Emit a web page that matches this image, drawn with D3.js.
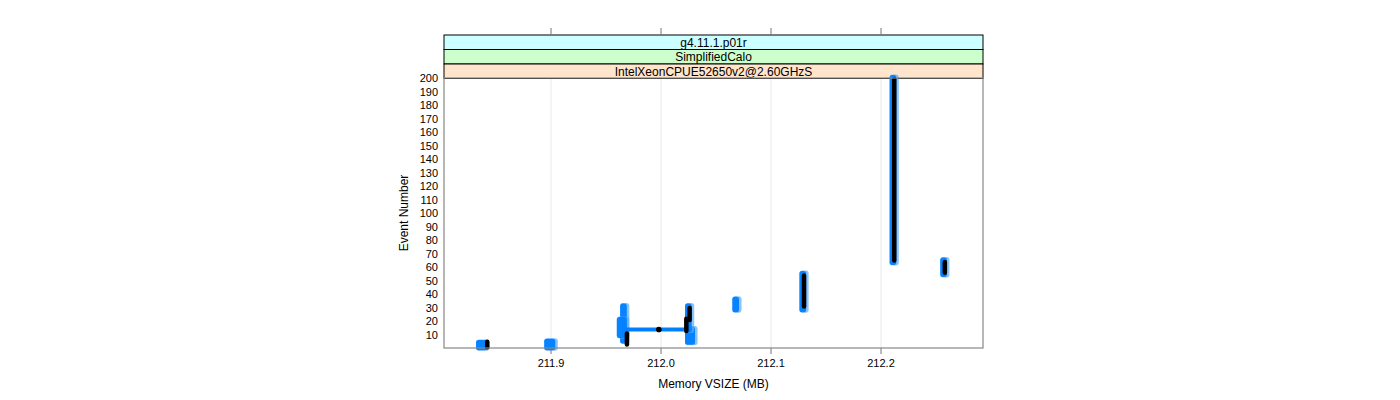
<!DOCTYPE html>
<html><head><meta charset="utf-8">
<script src="https://cdn.jsdelivr.net/npm/d3@7"></script>
<style>body{margin:0;background:#fff}text{font-family:"Liberation Sans",Arial,sans-serif}</style>
</head><body><svg id="c" width="1400" height="400"></svg>
<script>
// strip labels (outer to inner)
const stripLabels = ["g4.11.1.p01r", "SimplifiedCalo", "IntelXeonCPUE52650v2@2.60GHzS"];
const xTicks = [211.9, 212.0, 212.1, 212.2];
const yTicks = [10,20,30,40,50,60,70,80,90,100,110,120,130,140,150,160,170,180,190,200];
// blue (all runs) runs of events: memory range and event range
const blueMemLo = [211.835, 211.897, 211.966, 211.963, 212.025, 212.025, 212.068, 212.129, 212.211, 212.257];
const blueMemHi = [211.841, 211.903, 211.968, 211.968, 212.030, 212.027, 212.070, 212.131, 212.213, 212.259];
const blueFrom  = [1, 1, 6, 10, 5, 14, 29, 29, 64, 55];
const blueTo    = [4, 5, 31, 21, 14, 31, 36, 55, 200, 65];
// blue connecting line
const blueLineMem = [211.968, 212.026];
const blueLineEvt = [14, 14];
// black (reference run)
const blackMem  = [211.842, 211.969, 212.023, 212.026, 212.130, 212.212, 212.258];
const blackFrom = [1, 3, 13, 21, 31, 65, 56];
const blackTo   = [5, 11, 22, 30, 54, 199, 64];
const blackDotMem = [211.998];
const blackDotEvt = [14];

const svg = d3.select("#c");
const L = 444, R = 983, T = 78, B = 348;
const x = d3.scaleLinear().domain([211.8027, 212.2927]).range([L, R]);
const y = d3.scaleLinear().domain([0, 200]).range([B + 0.5, T]);

// grid
svg.append("g").selectAll("line").data(xTicks).join("line")
  .attr("x1", d => x(d)).attr("x2", d => x(d)).attr("y1", T).attr("y2", B)
  .attr("stroke", "#e8e8e8").attr("stroke-width", 1);

// strips
const sh = 14.5;
stripLabels.forEach((lab, i) => {
  const top = 35 + i * sh;
  const col = ["#ccffff", "#ccffcc", "#ffe5cc"][i];
  svg.append("rect").attr("x", L).attr("y", top).attr("width", R - L).attr("height", sh)
    .attr("fill", col).attr("stroke", "#000").attr("stroke-width", 1);
  svg.append("text").attr("x", (L + R) / 2).attr("y", top + sh / 2 + 4.5)
    .attr("text-anchor", "middle").attr("font-size", 12).text(lab);
});

// blue runs
const g = svg.append("g");
blueMemLo.forEach((lo, i) => {
  const x0 = x(lo) - 3.5, x1 = x(blueMemHi[i]) + 3.5;
  const y0 = y(blueTo[i]) - 3.5, y1 = y(blueFrom[i]) + 3.5;
  g.append("rect").attr("x", x0).attr("y", y0).attr("width", x1 - x0).attr("height", y1 - y0)
    .attr("rx", 3).attr("fill", "#5aaaff").attr("fill-opacity", 0.7);
  g.append("rect").attr("x", x0).attr("y", y0 + 0.5).attr("width", Math.max(0, x1 - x0 - 2.5)).attr("height", y1 - y0 - 1)
    .attr("rx", 2.5).attr("fill", "#0080ff").attr("fill-opacity", 0.95);
});
g.append("path")
  .attr("d", d3.line().x(d => x(d[0])).y(d => y(d[1]))(blueLineMem.map((m, i) => [m, blueLineEvt[i]])))
  .attr("stroke", "#0080ff").attr("stroke-width", 4).attr("fill", "none");

// black runs
blackMem.forEach((m, i) => {
  g.append("line").attr("x1", x(m)).attr("x2", x(m))
    .attr("y1", y(blackFrom[i])).attr("y2", y(blackTo[i]))
    .attr("stroke", "#000").attr("stroke-width", 4.5).attr("stroke-linecap", "round");
});
g.selectAll("circle.bd").data(blackDotMem).join("circle")
  .attr("cx", d => x(d)).attr("cy", (d, i) => y(blackDotEvt[i])).attr("r", 2.8).attr("fill", "#000");

// panel border
svg.append("rect").attr("x", L).attr("y", T).attr("width", R - L).attr("height", B - T)
  .attr("fill", "none").attr("stroke", "#888").attr("stroke-width", 1.2);

// x ticks bottom and top
xTicks.forEach(t => {
  svg.append("line").attr("x1", x(t)).attr("x2", x(t)).attr("y1", B).attr("y2", B + 6).attr("stroke", "#777");
  svg.append("line").attr("x1", x(t)).attr("x2", x(t)).attr("y1", 28).attr("y2", 35).attr("stroke", "#777");
  svg.append("text").attr("x", x(t)).attr("y", 367).attr("text-anchor", "middle").attr("font-size", 11).text(t.toFixed(1));
});
// y tick labels
yTicks.forEach(t => {
  svg.append("text").attr("x", 438).attr("y", y(t) + 4).attr("text-anchor", "end").attr("font-size", 11).text(t);
});

svg.append("text").attr("x", (L + R) / 2).attr("y", 388).attr("text-anchor", "middle").attr("font-size", 12).text("Memory VSIZE (MB)");
svg.append("text").attr("transform", `translate(408,${(T + B) / 2}) rotate(-90)`).attr("text-anchor", "middle").attr("font-size", 12).text("Event Number");
</script></body></html>
